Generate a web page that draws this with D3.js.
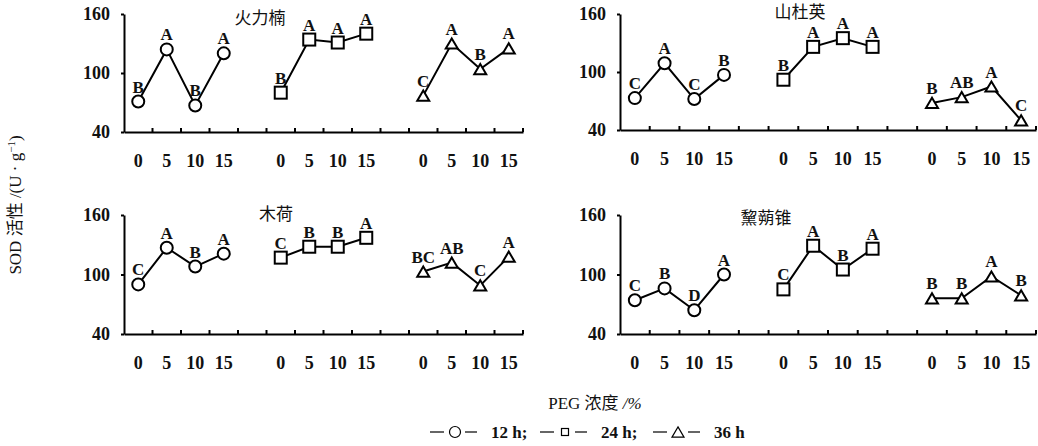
<!DOCTYPE html>
<html>
<head>
<meta charset="utf-8">
<script src="https://cdn.jsdelivr.net/npm/d3@7"></script>
<style>
  body { margin: 0; background: #fff; }
  svg text { fill: #111; }
</style>
</head>
<body>
<div id="chart"></div>
<script>
var w = 1038, h = 446;
var SERIF = "'Liberation Serif', 'Times New Roman', serif";

// PEG concentration (%) and sampling times
var pegLevels = ["0", "5", "10", "15"];
var hourNames = ["12 h", "24 h", "36 h"];
var speciesNames = ["火力楠", "山杜英", "木荷", "黧蒴锥"];
var yTicks = [40, 100, 160];

// SOD activity, rows = 12 h / 24 h / 36 h, cols = PEG 0,5,10,15
var huolinanSOD = [[71, 124, 67, 120], [80, 134, 131, 140], [77, 130, 104, 125]];
var shanduyingSOD = [[73, 109, 72, 97], [92, 126, 135, 126], [68, 74, 85, 50]];
var muheSOD = [[90, 127, 108, 121], [117, 128, 128, 137], [103, 112, 89, 118]];
var lishuozhuiSOD = [[74, 86, 64, 100], [85, 129, 105, 126], [76, 76, 98, 79]];

// significance letters
var huolinanSig = [["B", "A", "B", "A"], ["B", "A", "A", "A"], ["C", "A", "B", "A"]];
var shanduyingSig = [["C", "A", "C", "B"], ["B", "A", "A", "A"], ["B", "AB", "A", "C"]];
var muheSig = [["C", "A", "B", "A"], ["C", "B", "B", "A"], ["BC", "AB", "C", "A"]];
var lishuozhuiSig = [["C", "B", "D", "A"], ["C", "A", "B", "A"], ["B", "B", "A", "B"]];

var allValues = [huolinanSOD, shanduyingSOD, muheSOD, lishuozhuiSOD];
var allSig = [huolinanSig, shanduyingSig, muheSig, lishuozhuiSig];

// panel frames (axis corners) and title spots
var panels = [
  {x0: 124, x1: 523, yTop: 14, yBot: 132, tx: 260, ty: 18},
  {x0: 620, x1: 1036, yTop: 14, yBot: 130, tx: 800, ty: 12},
  {x0: 124, x1: 523, yTop: 215, yBot: 334, tx: 276, ty: 214},
  {x0: 620, x1: 1036, yTop: 215, yBot: 334, tx: 766, ty: 218}
];

var svg = d3.select("#chart").append("svg")
    .attr("width", w)
    .attr("height", h)
    .style("font-family", SERIF);

var shapes = ["circle", "square", "triangle"];

function drawMarker(g, shape, x, y, s) {
  if (shape == "circle") {
    g.append("circle").attr("cx", x).attr("cy", y).attr("r", s / 2);
  } else if (shape == "square") {
    g.append("rect").attr("x", x - s / 2).attr("y", y - s / 2).attr("width", s).attr("height", s);
  } else {
    var hh = s * 0.85;
    g.append("path").attr("d", "M" + x + "," + (y - hh / 2) + "L" + (x + s / 2) + "," + (y + hh / 2) + "L" + (x - s / 2) + "," + (y + hh / 2) + "Z");
  }
}

panels.forEach(function(p, pi) {
  var idx = d3.range(14);
  var x = d3.scaleBand().domain(idx).range([p.x0, p.x1]).paddingInner(0);
  var y = d3.scaleLinear().domain([40, 160]).range([p.yBot, p.yTop]);
  var g = svg.append("g");

  // y axis
  var ya = g.append("g")
      .attr("transform", "translate(" + p.x0 + ",0)")
      .call(d3.axisLeft(y).tickValues(yTicks).tickSizeInner(3).tickSizeOuter(0).tickPadding(11));
  ya.attr("font-family", SERIF);
  ya.selectAll("text").style("font-size", "18px").style("font-weight", "bold");
  ya.select(".domain").attr("stroke-width", 2);
  ya.selectAll(".tick line").attr("stroke-width", 2);

  // x axis: labels in band centres, ticks at band edges
  var labelIdx = idx.filter(function(i) { return i % 5 != 4; });
  var xa = g.append("g")
      .attr("transform", "translate(0," + p.yBot + ")")
      .call(d3.axisBottom(x).tickValues(labelIdx).tickSize(0).tickPadding(22)
        .tickFormat(function(i) { return pegLevels[i % 5]; }));
  xa.attr("font-family", SERIF);
  xa.selectAll("text").style("font-size", "18px").style("font-weight", "bold");
  xa.select(".domain").attr("stroke-width", 2);
  g.selectAll(".edgeTick")
    .data(d3.range(1, 15))
    .enter().append("line")
      .attr("x1", function(i) { return p.x0 + i * x.bandwidth(); })
      .attr("x2", function(i) { return p.x0 + i * x.bandwidth(); })
      .attr("y1", p.yBot).attr("y2", p.yBot - 4)
      .attr("stroke", "#000").attr("stroke-width", 2);

  // title
  g.append("text")
    .attr("x", p.tx).attr("y", p.ty)
    .attr("text-anchor", "middle").attr("dy", "0.35em")
    .style("font-family", "'Noto Sans CJK SC', sans-serif")
    .style("font-size", "17px")
    .text(speciesNames[pi]);

  var vals = allValues[pi], sig = allSig[pi];
  vals.forEach(function(series, si) {
    var pts = series.map(function(v, k) {
      return [x(si * 5 + k) + x.bandwidth() / 2, y(v)];
    });
    g.append("path")
      .attr("d", d3.line()(pts))
      .attr("fill", "none").attr("stroke", "#000").attr("stroke-width", 2);
    var mg = g.append("g").attr("fill", "#fff").attr("stroke", "#000").attr("stroke-width", 2);
    pts.forEach(function(pt) { drawMarker(mg, shapes[si], pt[0], pt[1], 12); });
    pts.forEach(function(pt, k) {
      g.append("text")
        .attr("x", pt[0]).attr("y", pt[1] - 9)
        .attr("text-anchor", "middle")
        .style("font-size", "17px").style("font-weight", "bold")
        .text(sig[si][k]);
    });
  });
});

// y label
svg.append("text")
  .attr("transform", "translate(21,205) rotate(-90)")
  .attr("text-anchor", "middle")
  .style("font-size", "17px")
  .html("SOD <tspan style=\"font-family:'Noto Sans CJK SC'\">活性</tspan> /(U · g<tspan dy=\"-6\" font-size=\"11\">−1</tspan><tspan dy=\"6\">)</tspan>");

// x label
svg.append("text")
  .attr("x", 595).attr("y", 409)
  .attr("text-anchor", "middle")
  .style("font-size", "17px")
  .html("PEG <tspan style=\"font-family:'Noto Sans CJK SC'\">浓度</tspan> <tspan font-style=\"italic\">/%</tspan>");

// legend
var legendX = [430, 540, 653];
var legendSize = [11, 7, 12];
var lg = svg.append("g");
hourNames.forEach(function(name, i) {
  var lx = legendX[i], ly = 432;
  lg.append("line").attr("x1", lx).attr("x2", lx + 14).attr("y1", ly).attr("y2", ly)
    .attr("stroke", "#000").attr("stroke-width", 1.2);
  var mg = lg.append("g").attr("fill", "#fff").attr("stroke", "#000").attr("stroke-width", 1.2);
  drawMarker(mg, shapes[i], lx + 25, ly, legendSize[i]);
  lg.append("line").attr("x1", lx + 35).attr("x2", lx + 47).attr("y1", ly).attr("y2", ly)
    .attr("stroke", "#000").attr("stroke-width", 1.2);
  lg.append("text").attr("x", lx + 61).attr("y", ly + 6)
    .style("font-size", "17px").style("font-weight", "bold")
    .text(name + (i < 2 ? ";" : ""));
});
</script>
</body>
</html>
